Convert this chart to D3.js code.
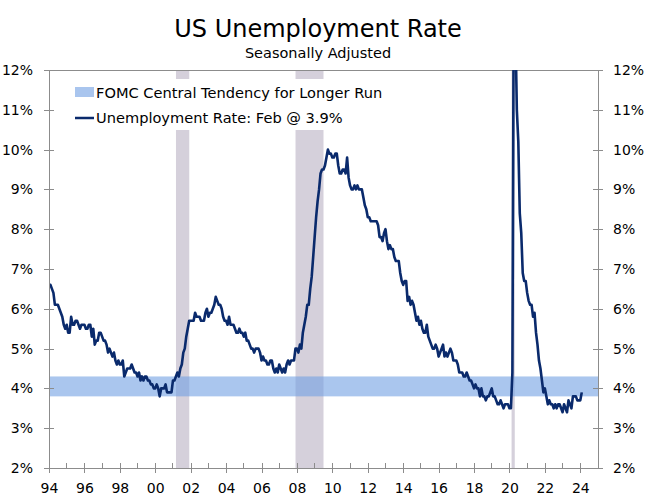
<!DOCTYPE html>
<meta charset="utf-8">
<script src="https://cdn.jsdelivr.net/npm/d3@7/dist/d3.min.js"></script>

<style>
body { margin: 0; background: #fff; }
text { font-family: "DejaVu Sans", Verdana, sans-serif; fill: #000; }
.axis line, .axis path { stroke: #8c8c8c; stroke-width: 1px; shape-rendering: crispEdges; }
.tick text { font-size: 14px; }
</style>

<body>
<script>

// monthly unemployment rate, Jan 1994 .. Feb 2024 (seasonally adjusted)
var startYear = 1994;
var unrate = [
  6.6,6.6,6.5,6.4,6.1,6.1,6.1,6.0,5.9,5.8,5.6,5.5,
  5.6,5.4,5.4,5.8,5.6,5.6,5.7,5.7,5.6,5.5,5.6,5.6,
  5.6,5.5,5.5,5.6,5.6,5.3,5.5,5.1,5.2,5.2,5.4,5.4,
  5.3,5.2,5.2,5.1,4.9,5.0,4.9,4.8,4.9,4.7,4.6,4.7,
  4.6,4.6,4.7,4.3,4.4,4.5,4.5,4.5,4.6,4.5,4.4,4.4,
  4.3,4.4,4.2,4.3,4.2,4.3,4.3,4.2,4.2,4.1,4.1,4.0,
  4.0,4.1,4.0,3.8,4.0,4.0,4.0,4.1,3.9,3.9,3.9,3.9,
  4.2,4.2,4.3,4.4,4.3,4.5,4.6,4.9,5.0,5.3,5.5,5.7,
  5.7,5.7,5.7,5.9,5.8,5.8,5.8,5.7,5.7,5.7,5.9,6.0,
  5.8,5.9,5.9,6.0,6.1,6.3,6.2,6.1,6.1,6.0,5.8,5.7,
  5.7,5.6,5.8,5.6,5.6,5.6,5.5,5.4,5.4,5.5,5.4,5.4,
  5.3,5.4,5.2,5.2,5.1,5.0,5.0,4.9,5.0,5.0,5.0,4.9,
  4.7,4.8,4.7,4.7,4.6,4.6,4.7,4.7,4.5,4.4,4.5,4.4,
  4.6,4.5,4.4,4.5,4.4,4.6,4.7,4.6,4.7,4.7,4.7,5.0,
  5.0,4.9,5.1,5.0,5.4,5.6,5.8,6.1,6.1,6.5,6.8,7.3,
  7.8,8.3,8.7,9.0,9.4,9.5,9.5,9.6,9.8,10.0,9.9,9.9,
  9.8,9.8,9.9,9.9,9.6,9.4,9.4,9.5,9.5,9.4,9.8,9.3,
  9.1,9.0,9.0,9.1,9.0,9.1,9.0,9.0,9.0,8.8,8.6,8.5,
  8.3,8.3,8.2,8.2,8.2,8.2,8.2,8.1,7.8,7.8,7.7,7.9,
  8.0,7.7,7.5,7.6,7.5,7.5,7.3,7.2,7.2,7.2,6.9,6.7,
  6.6,6.7,6.7,6.2,6.3,6.1,6.2,6.1,5.9,5.7,5.8,5.6,
  5.7,5.5,5.4,5.4,5.6,5.3,5.2,5.1,5.0,5.0,5.1,5.0,
  4.8,4.9,5.0,5.1,4.8,4.9,4.8,4.9,5.0,4.9,4.7,4.7,
  4.7,4.6,4.4,4.4,4.4,4.3,4.3,4.4,4.3,4.2,4.2,4.1,
  4.0,4.1,4.0,4.0,3.8,4.0,3.8,3.8,3.7,3.8,3.8,3.9,
  4.0,3.8,3.8,3.7,3.6,3.6,3.7,3.6,3.5,3.6,3.6,3.6,
  3.5,3.5,4.4,14.8,13.2,11.0,10.2,8.4,7.9,6.9,6.7,6.7,
  6.4,6.2,6.1,6.1,5.8,5.9,5.4,5.1,4.7,4.5,4.2,3.9,
  4.0,3.8,3.6,3.7,3.6,3.6,3.5,3.6,3.5,3.6,3.6,3.5,
  3.4,3.6,3.5,3.4,3.7,3.6,3.5,3.8,3.8,3.8,3.7,3.7,
  3.7,3.9
];

// NBER recessions as decimal years [start, end]
var recessions = [[2001.17, 2001.92], [2007.92, 2009.5], [2020.12, 2020.3]];

// FOMC longer run central tendency band
var fomcBand = [3.8, 4.3];

var yTicks = [2, 3, 4, 5, 6, 7, 8, 9, 10, 11, 12];
var xMajorYears = d3.range(1994, 2025, 2);
var xMinorYears = d3.range(1995, 2025, 2);

var width = 647,
    height = 497;
var plotLeft = 49, plotRight = 598, plotTop = 70, plotBottom = 468;

var x = d3.scaleLinear().domain([1994, 2025]).range([plotLeft, plotRight]);
var y = d3.scaleLinear().domain([2, 12]).range([plotBottom, plotTop]);

var series = unrate.map(function(v, i) {
  return {t: startYear + i / 12, v: v};
});

var svg = d3.select("body").append("svg")
    .attr("width", width)
    .attr("height", height);

svg.append("defs").append("clipPath")
    .attr("id", "plot")
  .append("rect")
    .attr("x", plotLeft).attr("y", plotTop)
    .attr("width", plotRight - plotLeft).attr("height", plotBottom - plotTop);

// recession shading
svg.append("g")
  .selectAll("rect")
  .data(recessions)
  .enter().append("rect")
    .attr("x", function(d) { return x(d[0]); })
    .attr("width", function(d) { return Math.max(2, x(d[1]) - x(d[0])); })
    .attr("y", plotTop)
    .attr("height", plotBottom - plotTop)
    .style("fill", "#d5d0db");

// FOMC band
svg.append("rect")
    .attr("x", plotLeft)
    .attr("width", plotRight - plotLeft)
    .attr("y", y(fomcBand[1]))
    .attr("height", y(fomcBand[0]) - y(fomcBand[1]))
    .style("fill", "#71a0e3")
    .style("opacity", 0.6);

// top border
svg.append("line")
    .attr("x1", plotLeft).attr("x2", plotRight)
    .attr("y1", plotTop).attr("y2", plotTop)
    .style("stroke", "#8c8c8c")
    .style("shape-rendering", "crispEdges");

// legend (white box hides shading behind it)
var legend = svg.append("g");
legend.append("rect")
    .attr("x", 60).attr("y", 79)
    .attr("width", 340).attr("height", 51)
    .style("fill", "#fff");
legend.append("rect")
    .attr("x", 75).attr("y", 87)
    .attr("width", 19).attr("height", 10)
    .style("fill", "#a9c5ee");
legend.append("text")
    .attr("x", 96).attr("y", 98)
    .style("font-size", "14.6px")
    .text("FOMC Central Tendency for Longer Run");
legend.append("line")
    .attr("x1", 75).attr("x2", 94)
    .attr("y1", 118).attr("y2", 118)
    .style("stroke", "#0a2a6c")
    .style("stroke-width", 2.5);
legend.append("text")
    .attr("x", 96).attr("y", 123)
    .style("font-size", "14.6px")
    .text("Unemployment Rate: Feb @ 3.9%");

// the line
var line = d3.line()
    .x(function(d) { return x(d.t); })
    .y(function(d) { return y(d.v); });

svg.append("path")
    .datum(series)
    .attr("clip-path", "url(#plot)")
    .attr("d", line)
    .style("fill", "none")
    .style("stroke", "#0a2a6c")
    .style("stroke-width", 2.6)
    .style("stroke-linejoin", "round");

// axes
var fmtPct = function(d) { return d + "%"; };

svg.append("g")
    .attr("class", "axis")
    .attr("transform", "translate(" + plotLeft + ",0)")
    .call(d3.axisLeft(y).tickValues(yTicks).tickFormat(fmtPct).tickSize(5).tickPadding(11).tickSizeOuter(0))
    .call(function(g) {
      g.selectAll(".tick line").attr("x2", 5).attr("x1", -5);
      g.select(".domain").attr("d", "M0," + plotTop + "V" + plotBottom);
    });

svg.append("g")
    .attr("class", "axis")
    .attr("transform", "translate(" + plotRight + ",0)")
    .call(d3.axisRight(y).tickValues(yTicks).tickFormat(fmtPct).tickSize(5).tickPadding(10).tickSizeOuter(0))
    .call(function(g) {
      g.selectAll(".tick line").attr("x1", -5).attr("x2", 5);
      g.select(".domain").attr("d", "M0," + plotTop + "V" + plotBottom);
    });

svg.append("g")
    .attr("class", "axis")
    .attr("transform", "translate(0," + plotBottom + ")")
    .call(d3.axisBottom(x).tickValues(xMajorYears)
      .tickFormat(function(d) { return d3.format("02")(d % 100); })
      .tickSize(5).tickPadding(10).tickSizeOuter(0))
    .call(function(g) {
      g.selectAll(".tick line").attr("y1", -5).attr("y2", 5);
      g.select(".domain").attr("d", "M" + plotLeft + ",0H" + plotRight);
    });

svg.append("g")
    .attr("class", "axis")
    .selectAll("line")
    .data(xMinorYears)
    .enter().append("line")
      .attr("x1", function(d) { return x(d); })
      .attr("x2", function(d) { return x(d); })
      .attr("y1", plotBottom - 5)
      .attr("y2", plotBottom);

// titles
svg.append("text")
    .attr("x", 318).attr("y", 37)
    .attr("text-anchor", "middle")
    .style("font-size", "24px")
    .text("US Unemployment Rate");

svg.append("text")
    .attr("x", 318).attr("y", 58)
    .attr("text-anchor", "middle")
    .style("font-size", "14.5px")
    .text("Seasonally Adjusted");

</script>
</body>
</html>
